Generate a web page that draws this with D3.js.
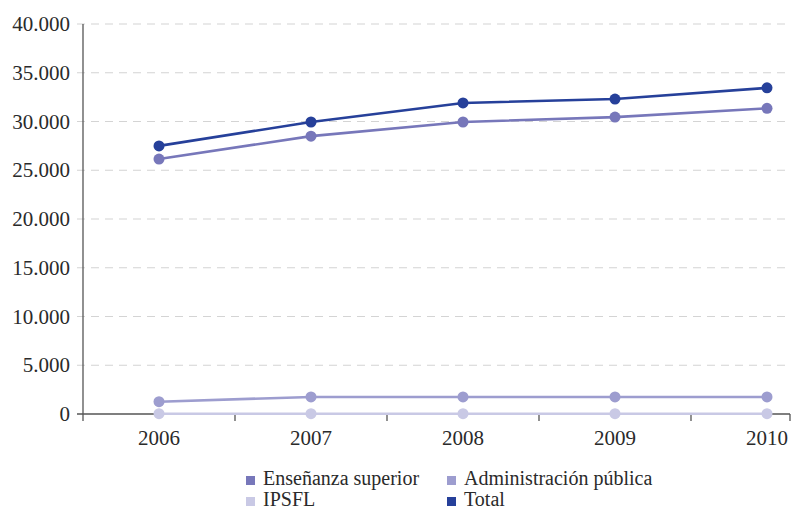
<!DOCTYPE html>
<html>
<head>
<meta charset="utf-8">
<script src="https://cdn.jsdelivr.net/npm/d3@7"></script>
<style>
  html, body { margin: 0; padding: 0; background: #fff; }
</style>
</head>
<body>
<svg id="chart" width="792" height="510" font-family="serif"></svg>
<script>
// Years on the horizontal axis
const years = ["2006", "2007", "2008", "2009", "2010"];

// Personnel by sector
const ensenanza = [26150, 28500, 29950, 30450, 31350];
const administracion = [1260, 1750, 1750, 1750, 1750];
const ipsfl = [30, 30, 30, 30, 30];
const total = [27500, 29950, 31900, 32300, 33450];

const seriesNames = ["Enseñanza superior", "Administración pública", "IPSFL", "Total"];
const seriesColors = ["#7777ba", "#9d9dcf", "#c9c9e5", "#26409a"];

const yTicks = [0, 5000, 10000, 15000, 20000, 25000, 30000, 35000, 40000];

const series = [
  { name: seriesNames[1], color: seriesColors[1], values: administracion },
  { name: seriesNames[2], color: seriesColors[2], values: ipsfl },
  { name: seriesNames[0], color: seriesColors[0], values: ensenanza },
  { name: seriesNames[3], color: seriesColors[3], values: total }
];

const FONT = "Liberation Serif";
const svg = d3.select("#chart");
const mLeft = 83, mRight = 790, mTop = 24, mBottom = 414;

const x = d3.scaleBand().domain(years).range([mLeft, mLeft + 152 * years.length]).paddingInner(0).paddingOuter(0);
const y = d3.scaleLinear().domain([0, 40000]).range([mBottom, mTop]);
const xc = d => x(d) + x.bandwidth() / 2;

const fmt = d3.formatLocale({ decimal: ",", thousands: ".", grouping: [3], currency: ["", "€"] }).format(",d");

// Horizontal grid lines
svg.append("g")
  .selectAll("line")
  .data(yTicks.filter(d => d > 0))
  .join("line")
  .attr("x1", mLeft - 6).attr("x2", mRight)
  .attr("y1", d => y(d)).attr("y2", d => y(d))
  .attr("stroke", "#d4d4d4").attr("stroke-width", 1.2)
  .attr("stroke-dasharray", "8,6");

// Y axis labels
svg.append("g")
  .selectAll("text")
  .data(yTicks)
  .join("text")
  .attr("font-family", FONT)
  .attr("font-size", 21)
  .attr("x", 70).attr("y", d => y(d))
  .attr("dy", "0.34em")
  .attr("text-anchor", "end")
  .attr("fill", "#2a2a2a")
  .text(d => fmt(d));

// Zero baseline and left axis
svg.append("line")
  .attr("x1", mLeft - 6).attr("x2", mRight)
  .attr("y1", y(0)).attr("y2", y(0))
  .attr("stroke", "#555").attr("stroke-width", 1.3);
svg.append("line")
  .attr("x1", mLeft).attr("x2", mLeft)
  .attr("y1", mTop).attr("y2", mBottom + 7)
  .attr("stroke", "#555").attr("stroke-width", 1.3);

// Category boundary ticks
const boundaries = years.slice(1).map(d => x(d)).concat([mRight]);
svg.append("g")
  .selectAll("line")
  .data(boundaries)
  .join("line")
  .attr("x1", d => d).attr("x2", d => d)
  .attr("y1", mBottom).attr("y2", mBottom + 7)
  .attr("stroke", "#555").attr("stroke-width", 1.3);

// Year labels
svg.append("g")
  .selectAll("text")
  .data(years)
  .join("text")
  .attr("font-family", FONT)
  .attr("font-size", 21)
  .attr("x", d => xc(d)).attr("y", 445)
  .attr("text-anchor", "middle")
  .attr("fill", "#2a2a2a")
  .text(d => d);

// Lines and markers
const line = d3.line().x((d, i) => xc(years[i])).y(d => y(d));
const sg = svg.append("g").selectAll("g").data(series).join("g");
sg.append("path")
  .attr("d", s => line(s.values))
  .attr("fill", "none")
  .attr("stroke", s => s.color)
  .attr("stroke-width", 2.6);
sg.selectAll("circle")
  .data(s => s.values.map((v, i) => ({ v, i, color: s.color })))
  .join("circle")
  .attr("cx", d => xc(years[d.i]))
  .attr("cy", d => y(d.v))
  .attr("r", 5.5)
  .attr("fill", d => d.color);

// Legend
const legendItems = [
  { name: seriesNames[0], color: seriesColors[0], lx: 246, ly: 476 },
  { name: seriesNames[1], color: seriesColors[1], lx: 447, ly: 476 },
  { name: seriesNames[2], color: seriesColors[2], lx: 246, ly: 497 },
  { name: seriesNames[3], color: seriesColors[3], lx: 447, ly: 497 }
];
const lg = svg.append("g").selectAll("g").data(legendItems).join("g")
  .attr("transform", d => `translate(${d.lx},${d.ly})`);
lg.append("rect").attr("width", 9).attr("height", 9).attr("fill", d => d.color);
lg.append("text")
  .attr("font-family", FONT)
  .attr("font-size", 20)
  .attr("x", 17).attr("y", 9)
  .attr("fill", "#2a2a2a")
  .text(d => d.name);
</script>
</body>
</html>
